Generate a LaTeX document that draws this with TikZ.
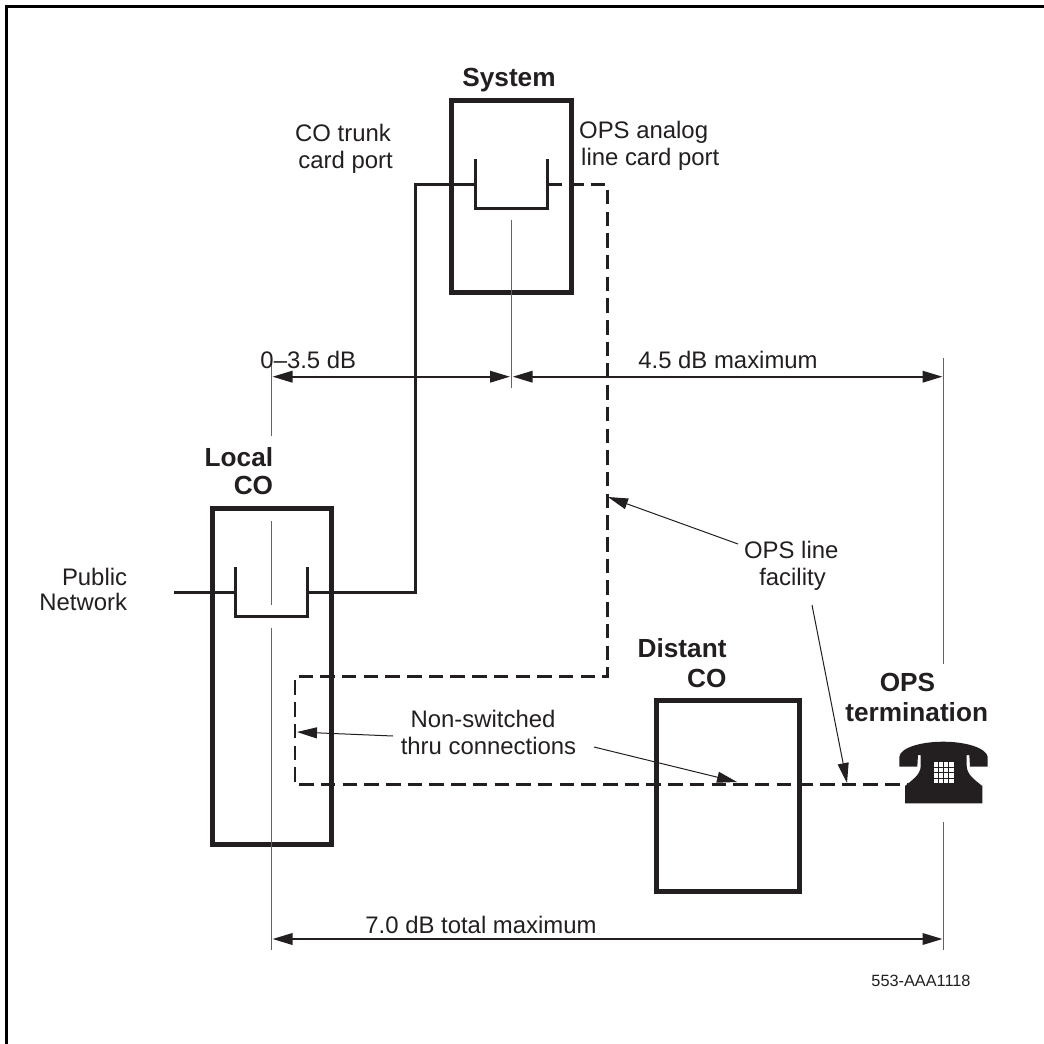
\documentclass[tikz,border=0pt]{standalone}
\usepackage{fontspec}
\setmainfont{Liberation Sans}
\usetikzlibrary{arrows.meta}
\definecolor{ink}{HTML}{231F20}
\tikzset{
  heavybox/.style={draw=ink,line width=5pt,inner sep=0pt,outer sep=0pt},
  wire/.style={draw=ink,line width=2.6pt,line join=miter},
  dashwire/.style={wire,dash pattern=on 14.5pt off 7.2pt},
  thin guide/.style={draw=ink!70,line width=0.8pt},
  dim/.style={draw=ink,line width=2pt,{Triangle[length=20pt,width=11.5pt]}-{Triangle[length=20pt,width=11.5pt]}},
  callout/.style={draw=ink,line width=1pt,-{Triangle[length=20pt,width=11pt]}},
  lbl/.style={text=ink,inner sep=0pt,anchor=base,font=\fontsize{23.9}{28}\selectfont},
  blbl/.style={text=ink,inner sep=0pt,anchor=base,font=\fontsize{26.2}{31}\selectfont\bfseries},
}
\begin{document}
\begin{tikzpicture}[x=1pt,y=-1pt]
\useasboundingbox (0,0) rectangle (1044,1044);
\fill[white] (0,0) rectangle (1044,1044);
% frame
\draw[black,line width=3pt] (6.5,1044) -- (6.5,6.5) -- (1044,6.5);

% anchor points
\coordinate (sysL) at (475.7,184.7);
\coordinate (sysR) at (547.3,184.7);
\coordinate (trunkTop) at (415.3,184.7);
\coordinate (trunkBot) at (415.3,592.7);
\coordinate (locR) at (307.5,592.7);
\coordinate (locL) at (235.3,592.7);
\coordinate (pub) at (174,592.7);
\coordinate (dashA) at (607.3,184.7);
\coordinate (dashB) at (607.3,676.7);
\coordinate (dashC) at (295,676.7);
\coordinate (dashD) at (295,784.7);
\coordinate (dashE) at (908,784.7);

% wires
\draw[wire] (sysL) -- (trunkTop) -- (trunkBot) -- (locR);
\draw[wire] (pub) -- (locL);
\draw[dashwire] (sysR) -- (dashA) -- (dashB) -- (dashC) -- (dashD) -- (dashE);

% heavy boxes
\node[heavybox,minimum width=120pt,minimum height=192pt] (system) at (511.5,196.5) {};
\node[heavybox,minimum width=119.5pt,minimum height=336pt] (local) at (271.75,676.5) {};
\node[heavybox,minimum width=143pt,minimum height=190.5pt] (distant) at (727.5,795.75) {};

% card ports
\draw[wire] (475.7,159) -- (475.7,208.3) -- (547.3,208.3) -- (547.3,159);
\draw[wire] (235.3,567.3) -- (235.3,616.7) -- (307.5,616.7) -- (307.5,567.3);

% guides
\coordinate (g1a) at (511.3,220); \coordinate (g1b) at (511.3,388);
\coordinate (g2a) at (271.3,363); \coordinate (g2b) at (271.3,436);
\coordinate (g3a) at (271.3,521); \coordinate (g3b) at (271.3,605);
\coordinate (g4a) at (271.3,628); \coordinate (g4b) at (271.3,950);
\coordinate (g5a) at (943.3,358); \coordinate (g5b) at (943.3,664);
\coordinate (g6a) at (943.3,822); \coordinate (g6b) at (943.3,950);
\draw[thin guide] (g1a) -- (g1b);
\draw[thin guide] (g2a) -- (g2b);
\draw[thin guide] (g3a) -- (g3b);
\draw[thin guide] (g4a) -- (g4b);
\draw[thin guide] (g5a) -- (g5b);
\draw[thin guide] (g6a) -- (g6b);

% dimensions
\coordinate (d1a) at (272.5,376.7); \coordinate (d1b) at (510,376.7);
\coordinate (d2a) at (512.7,376.7); \coordinate (d2b) at (942.5,376.7);
\coordinate (d3a) at (272.5,939); \coordinate (d3b) at (942.5,939);
\draw[dim] (d1a) -- (d1b);
\draw[dim] (d2a) -- (d2b);
\draw[dim] (d3a) -- (d3b);

% callouts
\coordinate (c1a) at (738,544); \coordinate (c1b) at (608,497);
\coordinate (c2a) at (812,605); \coordinate (c2b) at (847,783);
\coordinate (c3a) at (393,736); \coordinate (c3b) at (297,732);
\coordinate (c4a) at (594,747); \coordinate (c4b) at (737,782);
\draw[callout] (c1a) -- (c1b);
\draw[callout] (c2a) -- (c2b);
\draw[callout] (c3a) -- (c3b);
\draw[callout] (c4a) -- (c4b);

% telephone
\fill[ink] (899.3,766.7) -- (899.3,757) .. controls (900,748) and (920,741.7) .. (943.3,741.7)
  .. controls (966,741.7) and (986.5,748) .. (987.7,757) -- (987.7,766.7) -- (970,766.7) -- (969.3,755)
  -- (966.7,755) -- (966.7,766) .. controls (967,775) and (975,780) .. (982.3,786) -- (982.3,803.3)
  -- (905,803.3) -- (905,786) .. controls (912,780) and (920.5,775) .. (920.7,766) -- (920.7,755)
  -- (918,755) -- (917.3,766.7) -- cycle;
\fill[white] (933.7,761.7) rectangle (953.7,783.3);
\foreach \xx in {938.7,943.7,948.7} \draw[ink,line width=0.8pt] (\xx,761.7) -- (\xx,783.3);
\foreach \yy in {767.1,772.5,777.9} \draw[ink,line width=0.8pt] (933.7,\yy) -- (953.7,\yy);

% labels
\node[blbl] (t1) at (509,86.7) {System};
\node[lbl,anchor=base east] (t2) at (391,141.7) {CO trunk};
\node[lbl,anchor=base east] (t3) at (393,168.3) {card port};
\node[lbl,anchor=base west] (t4) at (579,138.3) {OPS analog};
\node[lbl,anchor=base west] (t5) at (581,165) {line card port};
\node[lbl] (t6) at (308.3,368.3) {0–3.5 dB};
\node[lbl] (t7) at (728,368.3) {4.5 dB maximum};
\node[blbl,anchor=base east] (t8) at (273.3,466) {Local};
\node[blbl,anchor=base east] (t9) at (273.3,494.5) {CO};
\node[lbl,anchor=base east] (t10) at (127.3,585) {Public};
\node[lbl,anchor=base east] (t11) at (127.3,610.7) {Network};
\node[blbl,anchor=base east] (t12) at (726.7,657.3) {Distant};
\node[blbl,anchor=base east] (t13) at (726.7,687.3) {CO};
\node[lbl] (t14) at (791.3,558.3) {OPS line};
\node[lbl] (t15) at (792.5,585) {facility};
\node[lbl] (t16) at (483,727.3) {Non-switched};
\node[lbl] (t17) at (488.5,754) {thru connections};
\node[blbl] (t18) at (907.5,691.7) {OPS};
\node[blbl] (t19) at (916.7,721.7) {termination};
\node[lbl] (t20) at (481,933) {7.0 dB total maximum};
\node[lbl,anchor=base,font=\fontsize{16.3}{19}\selectfont] (t21) at (921,986) {553-AAA1118};
\end{tikzpicture}
\end{document}
